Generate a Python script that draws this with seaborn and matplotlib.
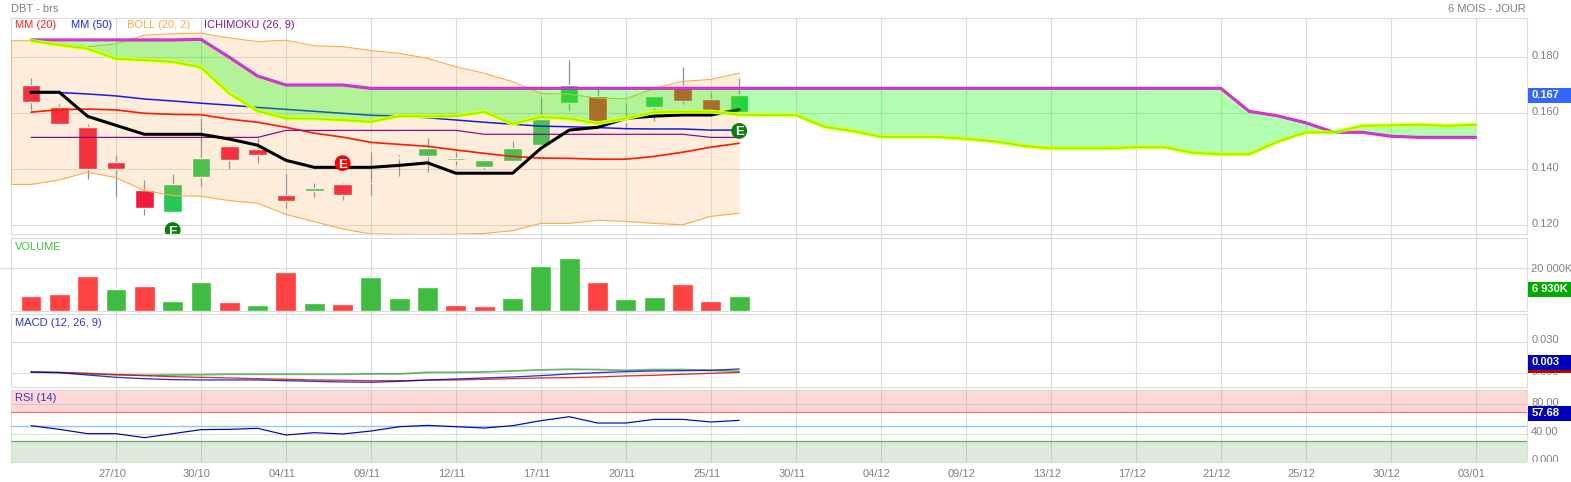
import matplotlib
matplotlib.use('Agg')
import matplotlib.pyplot as plt
from matplotlib.patches import Rectangle
from matplotlib.transforms import Affine2D
import seaborn as sns

# values
tick_idx = [3, 6, 9, 12, 15, 18, 21, 24, 27, 30, 33, 36, 39, 42, 45, 48, 51]
tick_lab = ['27/10', '30/10', '04/11', '09/11', '12/11', '17/11', '20/11', '25/11', '30/11',
            '04/12', '09/12', '13/12', '17/12', '21/12', '25/12', '30/12', '03/01']

c_open = [.1700, .1621, .1550, .1425, .1325, .1249, .1374, .1482, .1471, .1307, .1324, .1346, .1351,
          .1441, .1449, .1434, .1409, .1431, .1488, .1638, .1662, .1570, .1624, .1698, .1651, .1606]
c_close = [.1639, .1561, .1400, .1400, .1261, .1346, .1439, .1432, .1450, .1288, .1332, .1307, .1351,
           .1441, .1476, .1440, .1433, .1476, .1578, .1701, .1570, .1570, .1662, .1645, .1609, .1665]
c_high = [.1726, .1633, .1562, .1451, .1362, .1383, .1583, .1482, .1511, .1383, .1351, .1351, .1462,
          .1451, .1511, .1462, .1437, .1501, .1659, .1790, .1698, .1633, .1662, .1764, .1674, .1726]
c_low = [.1612, .1561, .1366, .1302, .1237, .1249, .1341, .1402, .1424, .1262, .1302, .1290, .1308,
         .1377, .1391, .1415, .1401, .1431, .1488, .1612, .1570, .1546, .1574, .1633, .1609, .1606]

# first point of the bands sits one day before the first candle, cut by the frame
boll_up = [.1859, .1859, .1849, .1838, .1848, .1879, .1884, .1886, .1869, .1856, .1861, .1841, .1838, .1824,
           .1814, .1796, .1766, .1743, .1713, .1671, .1668, .1654, .1652, .1689, .1714, .1721, .1743]
boll_low = [.1346, .1346, .1362, .1390, .1370, .1324, .1306, .1304, .1288, .1279, .1239, .1213, .1187, .1169,
            .1168, .1167, .1168, .1171, .1181, .1207, .1207, .1218, .1214, .1207, .1202, .1232, .1243]

mm20 = [.1604, .1613, .1615, .1612, .1600, .1596, .1595, .1579, .1568, .1550, .1529, .1515, .1496,
        .1489, .1482, .1469, .1457, .1446, .1440, .1439, .1436, .1436, .1446, .1461, .1479, .1493]
mm50 = [.1674, .1674, .1669, .1662, .1651, .1644, .1636, .1629, .1621, .1614, .1607, .1600, .1593,
        .1590, .1584, .1576, .1568, .1561, .1554, .1552, .1549, .1545, .1544, .1544, .1540, .1540]
tenkan = [.1675, .1675, .1589, .1557, .1525, .1525, .1525, .1508, .1486, .1432, .1407, .1407, .1407,
          .1414, .1423, .1386, .1386, .1386, .1475, .1540, .1550, .1582, .1590, .1594, .1594, .1613]
kijun = [.1514, .1514, .1514, .1514, .1514, .1514, .1514, .1514, .1514, .1539, .1539, .1539, .1539,
         .1539, .1539, .1539, .1525, .1525, .1525, .1525, .1525, .1525, .1525, .1525, .1514, .1514]
span_a = [.1862, .1862, .1862, .1862, .1862, .1862, .1864, .1800, .1733, .1701, .1701, .1701, .1689,
          .1689, .1689, .1689, .1689, .1689, .1689, .1689, .1689, .1689, .1689, .1689, .1689, .1689,
          .1689, .1689, .1689, .1689, .1689, .1689, .1689, .1689, .1689, .1689, .1689, .1689, .1689,
          .1689, .1689, .1689, .1689, .1607, .1591, .1566, .1532, .1532, .1518, .1514, .1514, .1514]
span_b = [.1859, .1844, .1831, .1795, .1790, .1784, .1764, .1671, .1608, .1582, .1581, .1576, .1570,
          .1590, .1589, .1590, .1605, .1562, .1587, .1581, .1564, .1582, .1604, .1606, .1606, .1595,
          .1594, .1594, .1552, .1537, .1516, .1516, .1516, .1509, .1500, .1484, .1475, .1475, .1475,
          .1479, .1479, .1459, .1454, .1454, .1499, .1532, .1532, .1555, .1557, .1559, .1555, .1559]

e_x = [5, 11, 25]
e_y = [.1183, .1422, .1537]
e_kind = ['up', 'down', 'up']

volume = [6760, 7700, 16190, 10060, 11630, 4720, 13520, 4090, 2830, 18240, 3620, 3140, 15720,
          5970, 11160, 2670, 2200, 5820, 21060, 24840, 13680, 5340, 6450, 12580, 4720, 6930]
vol_dir = ['r', 'r', 'r', 'g', 'r', 'g', 'g', 'r', 'g', 'r', 'g', 'r', 'g',
           'g', 'g', 'r', 'r', 'g', 'g', 'g', 'r', 'g', 'g', 'r', 'r', 'g']

macd = [.0013, .0006, -.0016, -.0038, -.0051, -.0060, -.0063, -.0063, -.0063, -.0070, -.0076, -.0082, -.0085,
        -.0076, -.0063, -.0054, -.0044, -.0035, -.0022, -.0006, .0006, .0016, .0022, .0025, .0028, .0041]
signal = [.0009, .0009, .0, -.0013, -.0022, -.0032, -.0038, -.0044, -.0051, -.0057, -.0063, -.0066, -.0070,
          -.0070, -.0066, -.0063, -.0057, -.0051, -.0044, -.0041, -.0035, -.0025, -.0019, -.0009, .0, .0009]
hist = [.0013, .0006, -.0006, -.0013, -.0019, -.0016, -.0013, -.0009, -.0009, -.0009, -.0009, -.0009, -.0006,
        -.0006, .0009, .0009, .0013, .0022, .0032, .0038, .0035, .0028, .0035, .0035, .0028, .0019]

rsi = [50.8, 45.8, 39.9, 39.9, 34.5, 39.9, 45.4, 45.8, 47.2, 38.1, 41.3, 39.5, 43.5,
       49.4, 51.2, 49.4, 47.6, 50.8, 57.6, 63.0, 54.4, 54.4, 59.4, 59.4, 55.8, 58.0]

W, H = 1571, 482
GRID = '#dcdcdc'
TXT = '#808080'
X0, X1 = 10.5, 1526.5
XLIM = (-0.724, 52.79)

sns.set_theme(style='white')
plt.rcParams['font.family'] = ['Liberation Sans', 'DejaVu Sans']
plt.rcParams['font.size'] = 8

fig = plt.figure(figsize=(W / 100, H / 100), dpi=100, facecolor='white')
px = Affine2D().scale(1, -1).translate(0, H)  # pixels from the top left


def panel(y0, y1):
    ax = fig.add_axes([X0 / W, 1 - y1 / H, (X1 - X0) / W, (y1 - y0) / H])
    ax.set_axisbelow(True)
    ax.grid(True, color=GRID, lw=0.8)
    for s in ax.spines.values():
        s.set_color(GRID)
        s.set_linewidth(0.8)
    return ax


def finish(ax, ylim, yticks, ylabels, bottom_labels=False):
    ax.set_xlim(*XLIM)
    ax.set_ylim(*ylim)
    ax.set_xlabel('')
    ax.set_ylabel('')
    ax.set_xticks(tick_idx)
    ax.set_xticklabels(tick_lab if bottom_labels else [])
    ax.set_yticks(yticks)
    ax.set_yticklabels(ylabels)
    ax.yaxis.tick_right()
    ax.tick_params(axis='y', length=0, pad=3.4, labelsize=8, labelcolor=TXT)
    if bottom_labels:
        ax.tick_params(axis='x', length=0, pad=5, labelsize=8, labelcolor=TXT)
        for lab in ax.get_xticklabels():
            lab.set_transform(lab.get_transform() + Affine2D().translate(-4, 0))
    else:
        ax.tick_params(axis='x', length=2.2, color=GRID, width=0.8, bottom=True)
    for lab in ax.get_yticklabels():
        lab.set_transform(lab.get_transform() + Affine2D().translate(0, 2.3))


def line(ax, x, y, color, lw, z, alpha=1.0):
    sns.lineplot(x=x, y=y, ax=ax, color=color, linewidth=lw, zorder=z, alpha=alpha,
                 legend=False, estimator=None, errorbar=None)


n = len(c_open)
idx = list(range(n))
idx_band = list(range(-1, n))
idx_cloud = list(range(len(span_a)))

# ---- price panel
ax = panel(17.5, 234)

ax.vlines(idx, c_low, c_high, color='#7f93ab', lw=0.9, zorder=3)
for i in idx:
    lo, hi = min(c_open[i], c_close[i]), max(c_open[i], c_close[i])
    if hi == lo:
        col = '#7f93ab'
    elif c_close[i] < c_open[i]:
        col = '#f01a3c'
    else:
        col = '#27c655'
    ax.bar(i, max(hi - lo, 0.00012), bottom=lo, width=0.65, color=col, zorder=3.2)

ax.fill_between(idx_band, boll_low, boll_up, color='#ffa040', alpha=0.18, lw=0, zorder=4)
line(ax, idx_band, boll_up, '#ffa94d', 0.8, 4.1)
line(ax, idx_band, boll_low, '#ffa94d', 0.8, 4.1)
ax.vlines(XLIM[0], boll_low[0], boll_up[0], color='#ffa94d', lw=1.6, alpha=0.6, zorder=4.1)

line(ax, idx, mm50, '#1a1ae6', 1.1, 5)
line(ax, idx, mm20, '#ff1a00', 1.2, 5.1)
line(ax, idx, kijun, '#8b008b', 0.85, 5.2)
line(ax, idx, tenkan, '#000000', 2.2, 5.3)

ax.fill_between(idx_cloud, span_a, span_b, color='#00ff00', alpha=0.3, lw=0, zorder=6)
line(ax, idx_cloud, span_a, '#ff00ff', 2.2, 6.1)
line(ax, idx_cloud, span_b, '#ffff00', 2.8, 6.1)
line(ax, idx_cloud, span_a, '#00ff00', 1.2, 6.2, alpha=0.35)
line(ax, idx_cloud, span_b, '#00ff00', 1.3, 6.2, alpha=0.5)

sns.scatterplot(x=e_x, y=e_y, hue=e_kind, palette={'up': '#0a7d0a', 'down': '#ff0000'}, s=130,
                linewidth=0, legend=False, ax=ax, zorder=7)
for xe, ye in zip(e_x, e_y):
    ax.text(xe, ye, 'E', color='white', fontsize=9.5, fontweight='bold', ha='center', va='center_baseline',
            zorder=8, clip_on=True)
finish(ax, (0.1169, 0.1942), [.18, .16, .14, .12], ['0.180', '0.160', '0.140', '0.120'])

# ---- volume panel
ax_v = panel(238.5, 310.7)
sns.barplot(x=idx, y=volume, hue=vol_dir, palette={'r': '#ff3333', 'g': '#2fb82f'}, native_scale=True,
            width=0.74, dodge=False, saturation=1, alpha=0.92, legend=False, ax=ax_v, zorder=3)
finish(ax_v, (0, 34000), [20000], ['20 000K'])
# the 20 000K rule also runs out to the left of the frame
ax_v.tick_params(axis='y', left=True, length=7.7, color=GRID, width=0.8, pad=-4.3)

# ---- macd panel
ax_m = panel(314, 386.7)
line(ax_m, idx, hist, '#3f9a3f', 1.3, 3, alpha=0.75)
line(ax_m, idx, signal, '#cc0000', 0.95, 3.1, alpha=0.8)
line(ax_m, idx, macd, '#0000bb', 0.95, 3.2, alpha=0.8)
finish(ax_m, (-0.0127, 0.0562), [.03, 0], ['0.030', '0.000'])

# ---- rsi panel
ax_r = panel(389.5, 461.7)
ax_r.axhspan(70, 100, color='#ff4d4d', alpha=0.22, lw=0, zorder=2.5)
ax_r.axhspan(1.8, 30.5, color='#6fb06f', alpha=0.25, lw=0, zorder=2.5)
ax_r.axhline(70, color='#f87070', lw=0.9, zorder=3)
ax_r.axhline(30.5, color='#6aa86a', lw=0.9, zorder=3)
ax_r.axhline(50, color='#90c8f8', lw=1.0, zorder=3)
line(ax_r, idx, rsi, '#0000bb', 0.85, 4)
finish(ax_r, (1.8, 100), [80, 40], ['80.00', '40.00'], bottom_labels=True)

# ---- titles
fig.text(11, 9, 'DBT - brs', color=TXT, fontsize=8, va='center', transform=px)
fig.text(1526, 9, '6 MOIS - JOUR', color=TXT, fontsize=8, va='center', ha='right', transform=px)
for xt, s, col in [(15, 'MM (20)', '#ff2020'), (71, 'MM (50)', '#2222ff'),
                   (127, 'BOLL (20, 2)', '#ffa94d'), (204, 'ICHIMOKU (26, 9)', '#8b1a8b')]:
    fig.text(xt, 25.5, s, color=col, fontsize=8, va='center', transform=px, zorder=10)
fig.text(15, 247, 'VOLUME', color='#44c044', fontsize=8, va='center', transform=px, zorder=10)
fig.text(15, 323, 'MACD (12, 26, 9)', color='#3333cc', fontsize=8, va='center', transform=px, zorder=10)
fig.text(15, 398, 'RSI (14)', color='#3333cc', fontsize=8, va='center', transform=px, zorder=10)

# 0.000 of the rsi axis is cut by the panel bottom in the original
fig.text(1531.5, 460, '0.000', color=TXT, fontsize=8, va='center', transform=px, zorder=3)
fig.add_artist(Rectangle((1527, 461.7), 44, 6, color='white', lw=0, transform=px, zorder=4))


def badge(s, y0, y1, color):
    fig.add_artist(Rectangle((1528, y0), W - 1528, y1 - y0, color=color, lw=0, transform=px, zorder=5))
    fig.text(1531.5, (y0 + y1) / 2, s, color='white', fontsize=8, fontweight='bold', va='center',
             transform=px, zorder=6)


badge('0.167', 88, 103, '#3366ff')
badge('6 930K', 282, 296.7, '#00aa00')
fig.add_artist(Rectangle((1528, 369.7), W - 1528, 2.8, color='#bb0000', lw=0, transform=px, zorder=5))
badge('0.003', 355, 369.7, '#0000bb')
badge('57.68', 406, 421, '#0000bb')

fig.savefig('out.png', dpi=100)
